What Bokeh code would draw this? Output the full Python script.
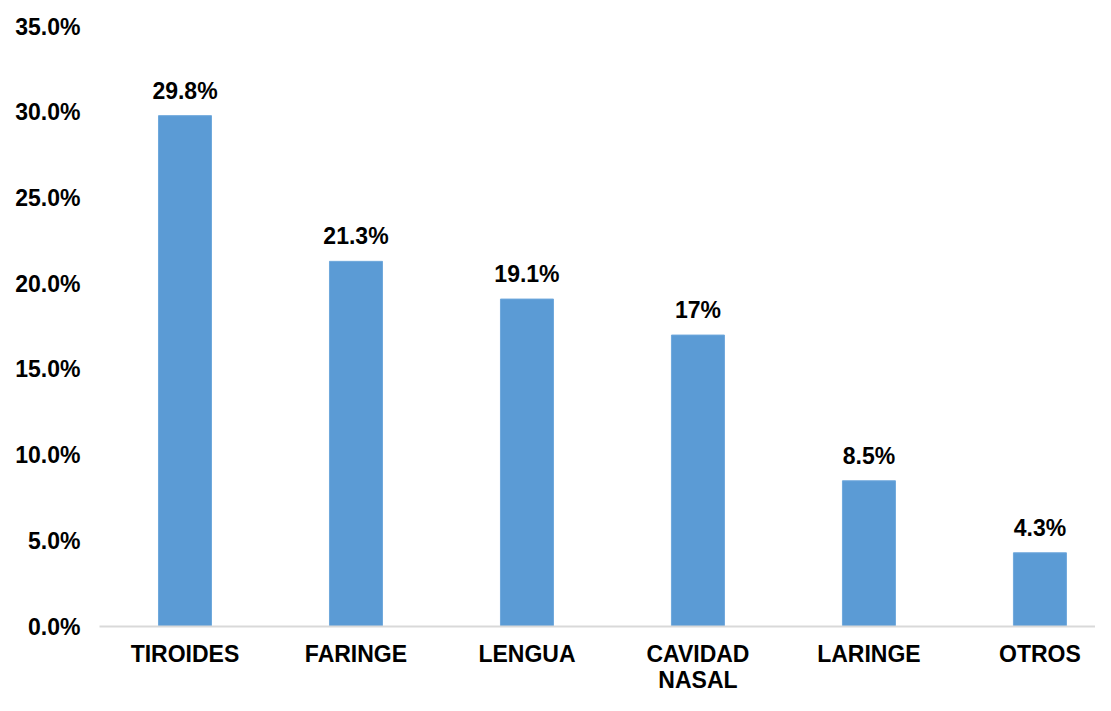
from bokeh.plotting import figure
from bokeh.models import ColumnDataSource, Range1d, FixedTicker, PrintfTickFormatter
from bokeh.core.properties import value
from bokeh.embed import file_html
from bokeh.resources import INLINE

categories = ["TIROIDES", "FARINGE", "LENGUA", "CAVIDAD\nNASAL", "LARINGE", "OTROS"]
values = [29.8, 21.3, 19.1, 17.0, 8.5, 4.3]
labels = ["29.8%", "21.3%", "19.1%", "17%", "8.5%", "4.3%"]
y_ticks = [0, 5, 10, 15, 20, 25, 30, 35]

xs = list(range(len(categories)))
src = ColumnDataSource(dict(x=xs, top=values, lab=labels))

FONT = "Liberation Sans"

p = figure(width=1095, height=695, output_backend="svg", toolbar_location=None,
           x_range=Range1d(-0.5, 5.325), y_range=Range1d(0, 35),
           min_border_left=99, min_border_right=0, min_border_top=26, min_border_bottom=50)
p.outline_line_color = None
p.grid.grid_line_color = None
p.background_fill_color = "white"

p.vbar(x="x", top="top", width=0.31, bottom=0, source=src,
       fill_color="#5B9BD5", line_color="#6FA8DC", line_width=1)

p.text(x="x", y="top", text="lab", source=src, text_align="center",
       text_baseline="alphabetic", y_offset=-25,
       text_font=value(FONT), text_font_style="bold", text_font_size="23px",
       text_color="black")

p.yaxis.ticker = FixedTicker(ticks=y_ticks)
p.yaxis.formatter = PrintfTickFormatter(format="%.1f%%")
p.yaxis.axis_line_color = None
p.yaxis.major_tick_line_color = None
p.yaxis.minor_tick_line_color = None
p.yaxis.major_label_standoff = 13

p.xaxis.ticker = FixedTicker(ticks=xs)
p.xaxis.major_label_overrides = {i: c for i, c in enumerate(categories)}
p.xaxis.axis_line_color = "#D9D9D9"
p.xaxis.axis_line_width = 2
p.xaxis.major_tick_line_color = None
p.xaxis.minor_tick_line_color = None
p.xaxis.major_label_standoff = 8
p.xaxis.major_label_text_line_height = 1.0

for ax in (p.xaxis, p.yaxis):
    ax.major_label_text_font = FONT
    ax.major_label_text_font_style = "bold"
    ax.major_label_text_font_size = "23px"
    ax.major_label_text_color = "black"

open("out.html", "w").write(file_html(p, INLINE))
